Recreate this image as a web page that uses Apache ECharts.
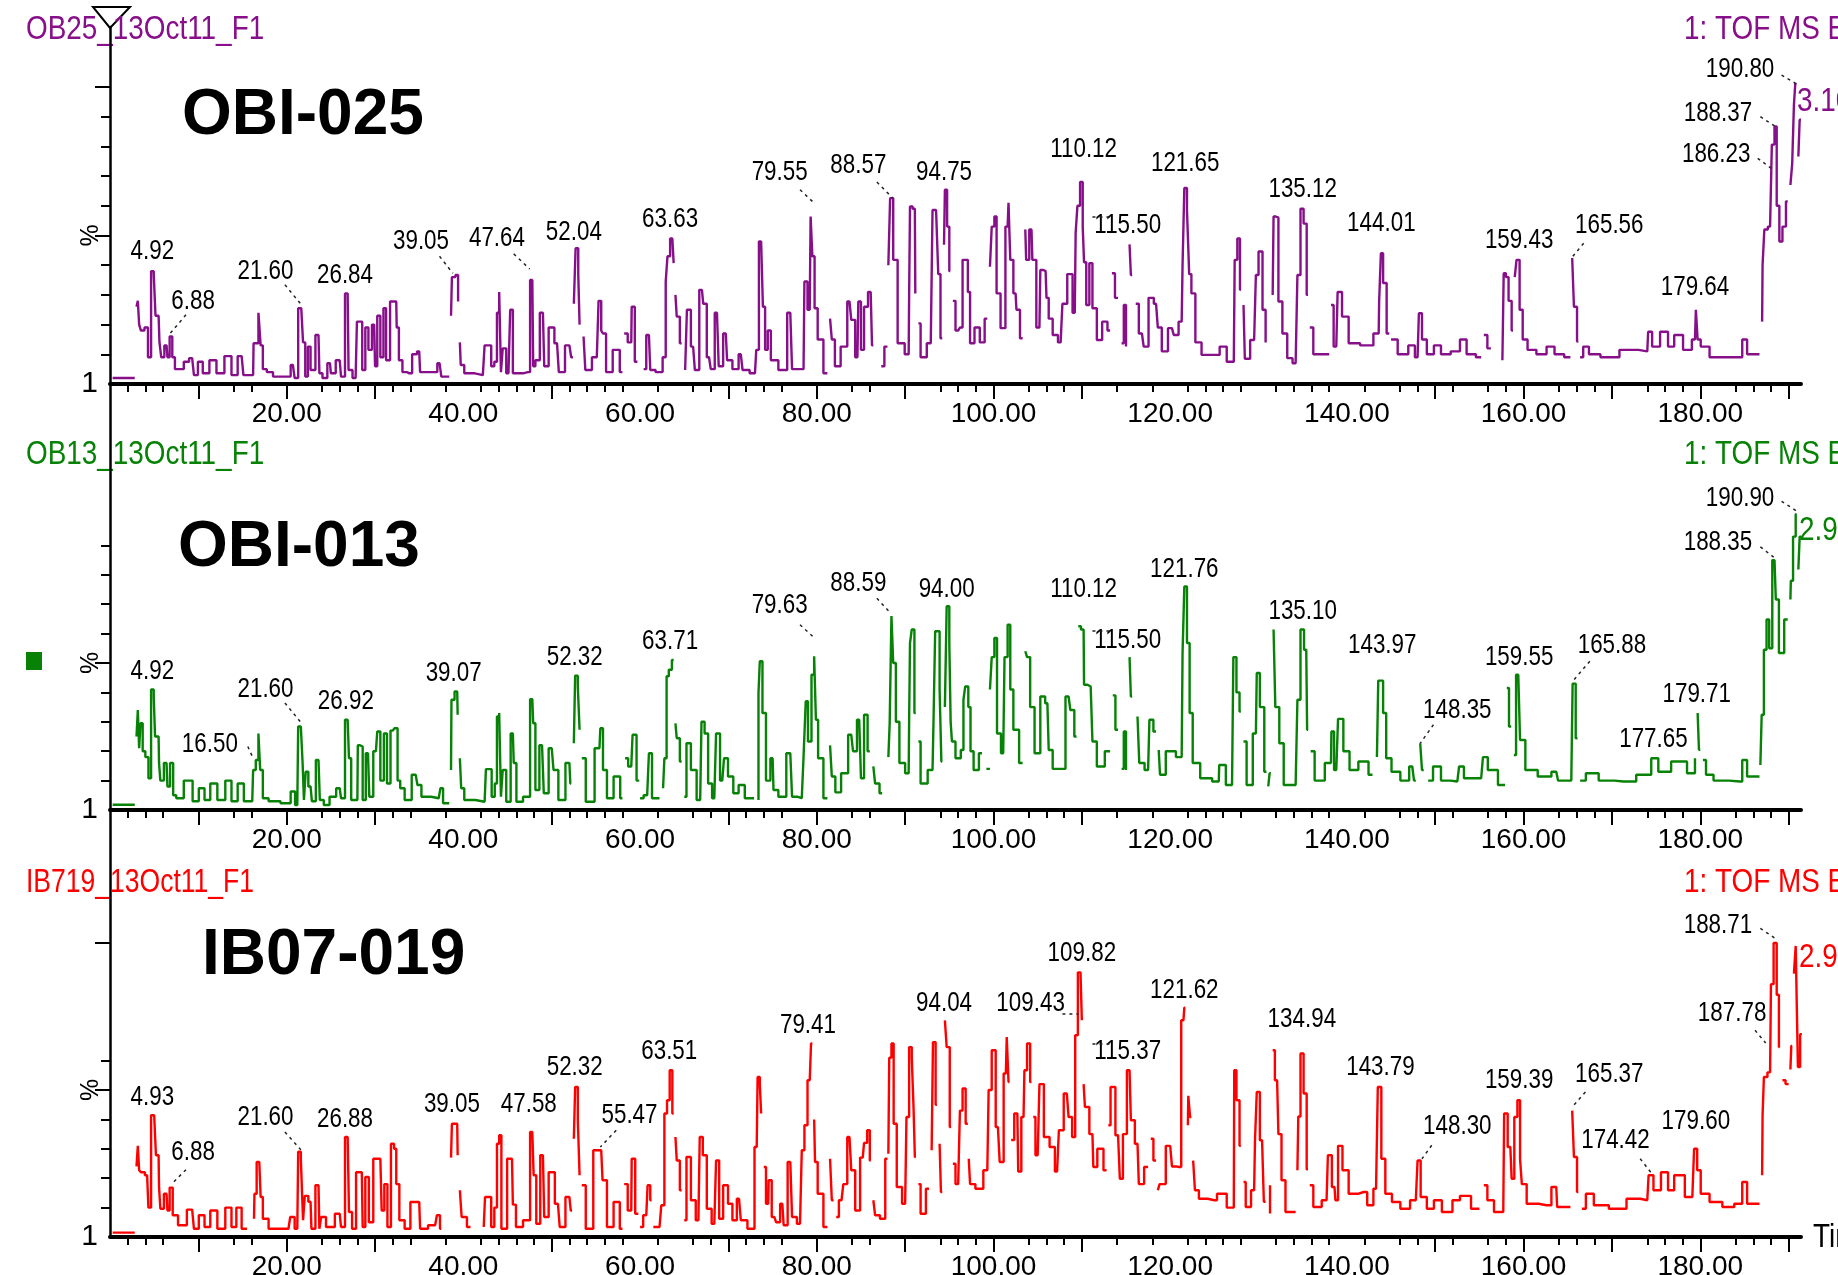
<!DOCTYPE html>
<html><head><meta charset="utf-8">
<style>html,body{margin:0;padding:0;background:#fff;overflow:hidden}#c{width:1838px;height:1275px}</style>
<script src="https://cdn.jsdelivr.net/npm/echarts@6/dist/echarts.min.js"></script></head>
<body><div id="c"></div>
<script>
const xLabelValues=[20,40,60,80,100,120,140,160,180];
const xMajorTicks=[10,20,30,50,70,80,90,100,110,150,160,170,180,190];
const xMinorTicks=[2,4,6,14,16,24,26,28,32,34,38,42,44,46,48,52,54,56,58,62,66,68,72,74,76,84,86,94,96,98,104,106,108,114,118,122,124,126,128,132,134,136,138,142,146,148,152,156,158,164,166,168,174,176,178,184,186,188];
const _=null;
const obi025=[[0.3,2],[2.8,2],_,
[3,26],[3.3,28],[3.3,20],[3.7,18],[4.1,19],[4.5,9],[4.8,38],[5.1,37],[5.2,23],[5.5,23],[5.7,14],[5.9,9],[6.4,13],[6.6,9],[6.9,16],[7.2,9],[7.5,5],[8.1,5],[8.6,7.5],[9.3,8.7],[9.7,3],[10.2,7.5],[10.8,3.6],[11.7,8],[12.4,3.6],[13.5,9.4],[14,3],[14.9,9.4],[15.3,3],[16.2,3],[16.3,13.7],[16.7,13.7],[16.9,24],[17,24],[17.1,13],[17.5,5],[18,4],[18.9,2.5],[20.2,2.5],[20.7,6.4],[21.1,2],[21.5,25.5],[21.8,25],[21.9,14],[22.3,2.5],[22.5,12.6],[22.9,4.7],[23.6,16.5],[23.8,3.6],[24.3,2],[24.9,7],[25.1,3.6],[26,8],[26.3,2.5],[26.9,30.5],[27.1,4.7],[27.8,2],[28.1,21],[28.4,21],[28.7,4.7],[29.1,19],[29.4,11.5],[29.9,20],[30.1,6],[30.4,23],[30.8,9],[31.1,25.5],[31.4,8],[32,27.8],[32.4,27.8],[32.5,19],[32.9,8],[33.3,4],[33.9,3.6],[34.5,10],[35,11],[35.2,4],[36.8,4],[37.3,7],[37.7,2.5],[38.4,2.5],_,
[38.6,23],[38.8,36],[39.4,36.7],[39.4,27.8],_,[39.6,14],[39.8,6.4],[40.4,3.6],[42.2,3],[42.6,13],[43,13],[43.3,6],[43.7,7.5],[43.9,24],[44.2,31],[44.3,4],[44.6,12],[45.1,3.6],[45.5,25],[45.7,3.6],[46.2,3.6],[47.3,4],[47.8,35],[48,6],[48.3,8],[49,24],[49.3,6],[50,19],[50.6,13.7],[51,4],[52,13],[52.4,9],_,[52.5,27],[52.9,45.7],[53.1,37],[53.2,20],_,[53.6,16],[54,4.7],[55.1,9],[55.5,28],[55.7,18],[55.9,17],[56.4,4],[57.4,11.5],[58,4],_,[58.2,17],[59,14],[59.1,26],[59.7,7.5],_,[60.4,5],[61,16.5],[61.3,4.7],[62.2,4],[62.9,9],[62.9,34.5],[63.3,43],[63.5,49],[63.8,49],[63.8,40.7],_,[64,30],[64.3,22.7],[64.7,13.7],_,[65.1,4.7],[65.5,25],[66,12.6],[66.4,4.7],[67,31.7],[67.3,27],[67.8,9],[68.2,5],[68.7,24],[69.1,6],[69.7,17],[70,8],[70.9,5],[71.4,10],[71.8,4.7],[73,3.6],[73.3,11.5],[73.6,48],[73.8,48],[74,26],[74.3,11.5],[74.6,18],[75,8],[76.3,4.7],[77,24],[77.4,5],[78.5,5],[78.7,34.5],[79.2,25],[79.4,56.4],[79.6,43],[79.9,25.5],[80.3,15],[81.2,3.6],_,[81.5,22],[81.9,15],[82.2,6],[83.2,12.6],[83.7,27.8],[84.1,21.6],[84.6,9],[84.8,27.8],[85.2,11.5],[85.5,26],[86.1,31],[86.4,13],_,[87.3,6],[88,12.6],_,[88.1,40],[88.5,62.6],[88.8,41.8],[89.5,13.7],[90.4,10],[90.5,29.4],[90.6,59.8],[91.1,59],[91.2,30.5],_,[91.5,20.4],[92,9],[92.9,13.7],[93.3,58.6],[93.7,58.6],[93.8,37],[94.2,15.4],_,[94.4,46.9],[94.6,65.4],[94.9,53],[95.1,38],_,[95.4,28],[96,18],[96.4,19],[96.6,41.8],[97,41.8],[97.2,31],[97.5,13.7],[98.2,19],[98.7,14],[99.3,22],_,[99.6,39.5],[100,53],[100.2,56.4],[100.5,30.5],[101.1,18.8],[101.6,53],[101.8,61],[102,41.8],[102.5,30.5],[102.7,25],[103.3,15.4],_,[103.6,52],[103.8,41.8],[104.3,52],[104.5,41.8],[105.2,19],[105.4,38.4],[105.9,38],[106.1,29],[106.4,22],[107,16.5],[107.6,14],[108,27],[108.7,37],[109.2,24],[109.4,51],[109.6,60],[110,68],[110.2,53],[110.3,41],[110.7,26.6],[111,40.7],[111.4,25.5],[112,14.8],[112.6,21],[113.2,18],_,[113.4,37.3],[114.1,29],_,[114.5,13.7],[115,26.6],[115,12.6],_,[115.4,47],[115.7,36.7],_,[116.1,27],[116.8,17],[117.2,12.6],[117.9,29],[118.4,27],[118.8,19],[119.3,11],[120.2,18.8],[120.6,16.5],[121.3,21],[121.5,40],[121.7,66],[122.1,58.6],[122.2,37],[122.6,30.5],[123.1,14],[124,9.8],[125.6,9.8],[125.6,12.6],[127.2,7.5],[127.4,41.8],[127.8,49],[128,31.7],_,[128.3,26.6],[128.6,8.5],[129.5,14.8],[129.9,36.7],[130.1,44.6],[130.8,25],[130.8,14],_,[131.2,8],_,[131.6,30],[131.8,56.4],[132.1,56],[132.4,27.8],[133,17],[133.5,8.7],[134.2,7],[134.6,36.7],[134.9,59],[135.3,54],[135.6,30],_,[135.8,19],[136.6,10],[138,10],_,[138.2,26.6],[138.8,12.6],[139.1,31],[139.8,22.7],[140.6,13.7],[142.4,13],[143.6,17],[143.7,27.8],[144,44],[144.2,34],[144.8,17],_,[145,15],[146.5,10],[147.4,13],[148,9],[148.3,23.8],[148.7,15],[149.4,10],[150.3,13],[151,10],[152.5,11],[153.1,15],[154,10],[155.2,9],_,[155.5,16.5],[156.3,12],_,[157.6,8],[157.9,37.3],[158.1,36],[158.5,28],[158.8,18],_,[159,36],[159.4,41.8],[159.7,25],[160.1,15],[160.8,11.5],[162.1,10],[163.1,12.6],[163.9,10],[165.3,9],_,[165.5,42.4],[165.9,26],[166.2,14.3],_,[166.4,9],[167.1,12.6],[167.7,10],[169.7,9],[172,11.5],[174,11],[174.2,17.6],[174.9,12.6],[176,17.6],[176.7,12.6],[177.4,16.5],[178.7,11.5],[179.4,15],[179.6,25],[179.8,15],[180.3,12.6],[181.8,9],[184.5,9],[185,15],[185.6,10],[186.7,10],_,[187,21],[187.1,40],[187.4,52],[187.9,53],[188.3,80.6],[188.5,86.7],[188.8,60],[189.1,48],[189.5,53],[189.9,61.5],_,[190.2,67],[190.6,74],[190.6,94],[190.9,101],_,[191.1,76.6],[191.4,89]];
const obi013=[[0.3,1.8],[2.8,1.8],_,
[3,25],[3.3,34],[3.3,21],[3.6,29.5],[3.8,20],[4.2,18],[4.5,10.8],[4.8,41],[5.1,38.6],[5.1,25],[5.5,25],[5.6,16],[5.8,10],[6.4,16],[6.6,8],[7,16],[7.3,5],[7.7,4],[9,10],[9.7,3],[10.4,7.4],[11,3.4],[11.7,9],[12.6,3.4],[13.5,10],[14,3],[14.9,9],[15.4,3],[16.1,3],[16.3,13.6],[16.7,17],[16.9,26],[17.1,13.6],[17.5,4],[18.4,3],[20.2,2.3],[20.7,6.3],[21.2,1.7],[21.4,28.4],[21.8,27.8],[21.8,16],[22.1,3.4],[22.2,13],[22.7,8],[23,3],[23.6,17],[23.9,3.4],[24.5,1.7],[25.2,4.5],[26,7.4],[26.3,4],[26.9,30.7],[27.2,17.6],[27.4,3.4],[28,3.4],[28.1,22],[28.5,21.6],[28.7,3.4],[29.2,19.3],[29.5,4.5],[30.1,20],[30.4,26.7],[30.8,10],[31.2,26],[31.5,9],[32,27],[32.4,27.8],[32.7,10],[33,7.4],[33.7,3.4],[34.6,12],[35,8.5],[35.5,4.5],[37.2,4],[37.6,7.4],[37.8,2.3],[38.4,2.3],_,
[38.6,13.6],[38.7,37.5],[39.3,40.3],[39.4,32.4],_,[39.6,17.6],[39.9,7.4],[40.3,3.4],[42.4,2.8],[42.7,13.9],[43,13.9],[43.4,4.5],[43.7,9],[43.9,31.8],[44.2,33],[44.3,4.5],[44.6,13.6],[45.1,2.8],[45.6,26],[45.8,16],[46.2,2.8],[47.3,4.5],[47.8,37.7],[48,29.5],[48.3,6.8],[48.9,22],[49.3,5.7],[50,21],[50.4,13.6],[51.1,3.4],[52,16],[52.2,9],_,[52.5,22.7],[52.8,45.7],[53.1,42],[53.2,27.3],_,[53.4,17.6],[54.3,2.8],[55.4,21],[55.6,27.8],[56,13.6],[56.5,4],[57.5,11.4],[58,4],_,[58.3,17.6],[59,14.8],[59.3,25.6],[59.9,10],_,[60,4],[60.8,5],[61.2,19.3],[61.5,4],[62.2,4],_,[62.6,7.4],[62.9,17.6],[63.1,45.5],[63.4,47.7],[63.8,51],_,[64,29.5],[64.3,24.4],[64.7,16.5],_,[65,4.5],[65.5,22.7],[66,13.6],[66.8,3.4],[67.1,30],[67.5,26],[67.9,9],[68.4,4],[68.8,26],[69.3,10],[69.7,17.6],[70.2,11.4],[70.9,5.7],[71.4,8.5],[72.3,4],[72.9,4],_,[73.4,3.4],[73.4,39.8],[73.7,50.6],[74,33],[74.5,10],[75,17.6],[75.2,6.8],[76.1,4.5],[77,19.3],[77.4,4.5],[78.3,4],[78.7,18],[78.8,37],[79.2,23.3],[79.6,46],[79.8,52.3],[80,30.7],[80.3,17.6],[81.2,4],_,[81.5,22],[81.9,11.4],[82.3,6],[83.2,12.5],[83.9,25.6],[84.3,20],[84.8,30.7],[85.2,10.8],[85.5,32.4],[86,20],_,[86.4,14.8],[86.8,9],[87.4,5.7],_,[87.9,7.4],_,[88.1,18],[88.4,29.5],[88.5,66],[88.8,50],[89.1,30],[89.6,16],[90.4,12.5],[90.5,30],[90.6,56.8],[90.9,61.4],[91.2,33],_,[91.5,23.3],[92,9],[93.1,13.6],[93.3,28.4],[93.5,60.8],[93.8,60.8],[94,41],[94.2,16.5],_,[94.5,35],[94.9,69.3],[95.1,56.8],[95.2,30],[95.4,23.3],[96,17.6],[96.6,20.4],[96.6,37.5],[97,42],[97.3,35],[97.5,20],[98,13.6],[98.7,19.3],_,[99.2,14],[99.6,14],_,[99.6,41],[100,52],[100.2,58.5],[100.6,26],[101.1,19.3],[101.4,52],[101.8,63],[102,41],[102.5,27.3],[103.3,16],_,[103.6,54],[104,52],[104.3,35],[105,19.3],[105.6,38.6],[106.1,36.3],[106.4,20.4],[107,14],[107.8,14],[108.5,38.6],[108.9,34],[109.4,25],_,[109.6,62.5],[110.2,61.4],[110.3,42.6],[111,42],[111.4,23.3],[112,14.8],[113.2,20],_,[113.5,39],[114.1,27.3],_,[114.5,14],[115,26.7],[115,13.6],_,[115.4,52],[115.7,38.6],_,[116.3,31.8],[116.7,16],[117.5,13.6],[117.8,30.7],[118.4,26.7],_,[118.7,20.4],[119,12],[120,20],[121.3,18],[121.5,53.4],[121.7,76],[122.1,56.8],[122.3,33],[122.8,16],[124,10.8],[125.5,9.7],[125.6,15.3],[127,8.5],[127.3,52],[127.7,40],[128,33.5],_,[128.3,23.3],[129,8.5],[129.7,26],[129.9,46.6],[130.4,35],[130.9,13],_,[131.1,8],[131.4,12.5],_,[131.7,61.4],[132.1,35],[132.6,22.7],[133.1,8.5],[134.2,8.5],[134.6,37.5],[134.9,61.4],[135.4,54.5],[135.6,27.3],_,[135.9,20],[136.8,10],[138.2,16],[138.3,26.7],[138.8,13.6],[139.2,31],[140,20],[140.6,13.6],[142,16.5],[142.9,12],_,[143.4,18],[143.7,44],[144,44],[144.2,33],[144.7,17.6],[145.4,13],[146.7,10],[147.4,14.8],[147.8,10],_,[148.3,22.7],[148.7,13.6],_,[149.2,10],[150.3,14.8],[151,10],[152.5,9.7],[152.9,14.8],[153.6,10.8],[155.2,10.8],[155.6,18],[156.3,13.6],[157.9,8.5],_,[158.1,41.5],[158.6,28.4],_,[158.9,18.7],[159.4,46],[159.8,23.8],[160.6,13.6],[162.6,11.4],[163.7,13],[164.1,10],[165.4,10],[165.7,43],[166.1,24.4],_,[166.4,10],[167.7,12.5],[169.3,10],[171.3,9.7],[174.2,12],[174.7,17.6],[175.8,13],[177.6,16.5],[179.4,12.5],[179.4,17.6],_,[179.7,33],[180,20.5],_,[180.3,17],[181,12],[182,10],[184.5,9.7],[185,17],[185.6,11.4],[186.7,11.4],_,[186.8,15.3],[187.1,32.4],[187.3,54.5],[187.7,64.8],[187.9,55],[188.4,85],[188.7,71.6],[189.1,53.4],[189.9,64.8],_,[190.2,71.6],[190.3,78],[190.7,93],[190.9,100.6],_,[191.1,81.8],[191.4,93]];
const ib07019=[[0.3,1.5],[2.8,1.5],_,
[3,24],[3.3,31],[3.3,22.7],[3.7,22],[4.2,21],[4.5,10],[4.8,41.4],[5.2,40.8],[5.2,27.8],[5.5,27.8],[5.6,17],[5.8,9.6],[6.4,14.7],[6.6,9],[6.9,16.8],[7.3,7.4],[8.1,4],[9.3,9.3],[9.7,2.8],[10.4,7.4],[11,3.4],[11.7,9],[12.6,2.8],[13.5,10],[14,3.4],[14.6,10],[15.2,2.8],[15.5,2.8],_,[16.3,6.2],[16.4,14.7],[16.8,25.5],[17,25.5],[17.1,13.6],[17.5,6.2],[18.4,2.8],[20.2,2.8],[20.6,6.8],[21.2,2.8],[21.4,29],[21.8,26.6],[21.9,5.7],[22.2,14],[22.7,12],[22.9,2.8],[23.6,17.6],[23.8,2.8],[24,6.8],[24.9,3.4],[26,7.9],[26.3,3.4],[26.9,34],[27.2,8.5],[27.6,2.8],[28.1,22],[28.5,22],[28.7,3.4],[29.1,20.4],[29.5,5],[30.1,26.6],[30.6,26.6],[30.9,9],[31.2,18],[31.6,3.4],[32,31.7],[32.3,30],[32.5,18],[33,5.7],[33.7,2.8],[34.3,11.9],[35,11.9],[35.2,2.8],[36.8,4],[37.2,7.4],[37.5,2.8],_,[38.4,2.8],_,[38.6,27],[38.8,38.5],[39.3,38.5],[39.4,27.8],_,[39.6,15.9],[40,6.8],[40.8,3.4],_,[42.3,3.4],[42.6,13.6],[43,13.6],[43.3,3.4],[43.7,10],[43.9,31.7],[44.2,34.6],[44.4,2.8],[45.5,26.6],[45.7,11],[46.2,3.4],[47.3,5.7],[47.8,35.7],[48.1,21],[48.4,4.5],[49,27.8],[49.3,6.8],[50,22],[50.7,11.3],[51.1,3.4],[52,13.6],[52.3,9],_,[52.5,33.4],[52.8,51],[53.1,39.7],[53.2,21],_,[53.4,17.6],[54.3,2.8],[55.1,29.5],[55.6,29.5],[55.9,19.3],[56.6,3.4],[57.4,11.9],[58,2.8],_,[58.2,18],[59,9],[59.1,26.6],[59.8,7.9],_,[60,3.4],[60.7,7.4],[61,17.6],[61.3,12.5],_,[61.5,3.4],[62.2,3.4],[62.6,10.8],[62.9,42],[63.2,46.5],[63.5,56.7],[63.8,42],_,[64,34],[64.3,26],[64.7,15.9],_,[65,5.7],[65.5,27.2],[66,12.5],[66.6,5.7],[66.9,34],[67.3,27.8],[67.8,9.6],[68.4,4.5],[68.8,26],[69.1,6.2],[69.7,17.6],[70.2,11.3],[70.7,5.7],[71.2,13],[71.6,5.7],[72.7,2.8],[73.2,30.6],[73.4,54.4],[73.7,52],[73.7,42],_,[74,23.8],[74.5,11.3],[74.6,19.3],[75.2,6.8],[75.6,5],[76.1,11.3],[76.4,4],[77,25.5],[77.4,6.8],[78.1,4.5],[78.5,29.5],[78.7,38],[79.2,53.3],[79.5,65.8],_,[79.7,40],[79.9,25.5],[80.3,14.7],[81.2,3.4],_,[81.5,26.6],[81.9,12.5],_,[82.2,6.8],[82.8,12.5],[83.2,18],[83.7,34],[84.1,22.7],[84.6,9],[85.2,27],[85.5,32],[85.9,36.3],[86.1,26],_,[86.4,12.5],[86.8,7.4],[87.5,6.2],[88,26.6],_,[88.1,28.3],[88.3,61],[88.6,65.8],[88.8,38.5],[89.3,17],[90,11.3],[90.3,40.8],[90.6,64.6],[90.9,61],[91,44],[91.2,27.2],_,[91.5,18],[92,7.9],[92.7,16.4],_,[93,29.5],[93.3,66.3],[93.6,45],_,[93.9,31.7],[94.2,15.3],_,[94.5,73.7],[94.9,64.6],[95.2,37.4],_,[95.4,24.9],[96,18],[96.4,43],[96.6,50.5],[97.1,38.5],_,[97.2,26.6],[97.5,18],[98.4,16.4],[99.3,22.7],[99.6,50],[100,63.5],[100.5,37.4],[100.9,25.5],[101.4,55.6],[101.6,68],[101.8,52.7],_,[102,33],[102.7,42],[102.9,22.3],[103.4,40.8],[103.6,56.7],[104,65.8],[104.3,52.7],_,[104.5,40.8],[105,27.8],[105.4,52],[106,34],[106.7,30.6],[107.2,22.3],[107.6,36.3],[108.3,48.8],[108.7,40.8],[109.1,34],[109.4,68.6],[109.7,90],[110,90],[110,73.7],_,[110.2,52],[110.5,44.2],[111.2,35],[111.4,23.8],[112.1,30],[112.8,22.7],_,[113,38],[113.5,51],[114.1,34.6],[114.5,19.8],[114.8,35],[115.4,56.7],[115.7,39.7],[116.3,31.7],[116.6,18],[117.5,23.8],_,[117.8,33.4],[118.4,26],_,[118.6,15.9],[119,18],[120,31],[120.4,24],[121,23.8],[121.5,73.7],[121.7,78],_,[122,38],[122.1,48],[122.4,40.8],_,[122.6,26],[123,15.9],[123.5,13],[125,12.5],[125.6,14.7],[127.2,10],[127.3,56.7],[127.7,46.5],[128,31],_,[128.3,18.7],[128.8,10.2],[129.5,15.9],[129.7,32.9],[129.9,49.3],[130.4,32.9],[130.8,12],_,[131.3,17.6],[131.3,8],_,[131.6,63.5],[132.1,53.3],[132.4,35],[132.8,19.3],[133.3,8.5],[134.2,8.5],_,[134.4,22.7],[134.6,41],[134.9,62.4],[135.3,48.8],[135.6,23],_,[135.8,17.6],[136.6,10.2],[137.7,12.5],[138,27.8],[138.6,17],[138.8,12.5],[139.2,31],[139.8,22.7],[140.6,14.7],[141.9,15.3],[142.7,10.8],[143.3,16.4],[143.7,51],[144.1,26.6],[144.6,14.7],[145.6,11.9],[146.5,9.6],[147.8,12.5],[148.2,26],[148.5,13.6],[149.6,9.6],[150.1,12.5],[151.4,8.5],[152.5,12.5],[153.1,14],[155,9.6],_,[155.5,17.6],[156.3,12.5],[157,8.5],[157.7,8.5],[157.9,42],[158.5,30.6],[158.8,19.8],[159.1,40.8],[159.5,46.5],[159.7,26.6],[159.9,18],[160.8,11.3],[162.6,10.8],[163.7,17],[163.9,10.2],[165.3,10.2],_,[165.5,43],[165.9,27.2],[166.2,15.3],_,[166.6,9.6],[167.5,14.7],[168.4,10.8],[170.9,9.6],[172.4,13],[174,12.5],[174.3,21],[175.1,15.9],[176,22],[176.7,15.9],[177.4,21],[179.1,13.6],[179.5,30],[179.8,22.7],[180.3,14.7],[181.8,11.9],[183.2,10.2],[184.5,11.3],[185,18.7],[185.6,11.3],[186.7,11.3],_,[187,21],[187.1,41.4],[187.3,54.4],[187.9,56],[188.1,86],[188.5,100],[188.8,82.4],[189,64.6],_,[189.3,53.3],[190,52],_,[190.2,57],[190.4,65],_,[190.6,89.6],[191,99],[191.1,57.8],[191.5,69]];

const annotations025=[["4.92",4.8,44.6],["6.88",9.4,27.8],["21.60",17.6,37.9],["26.84",26.6,36.7],["39.05",35.2,48],["47.64",43.8,49],["52.04",52.5,51],["63.63",63.4,55.3],["79.55",75.8,71.3],["88.57",84.7,73.6],["94.75",94.4,71.3],["110.12",110.2,78.9],["115.50",115.2,53.6],["121.65",121.7,74.4],["135.12",135,65.4],["144.01",143.9,54],["159.43",159.5,48.5],["165.56",169.7,53.6],["179.64",179.4,32.6],["190.80",184.5,105.8],["188.37",182,91.2],["186.23",181.8,77.2]];
const annotations013=[["4.92",4.8,47.2],["16.50",11.3,22.2],["21.60",17.6,40.9],["26.92",26.7,37],["39.07",38.9,46.4],["52.32",52.6,52],["63.71",63.4,57.4],["79.63",75.8,69.5],["88.59",84.7,77],["94.00",94.7,75.2],["110.12",110.2,75],["115.50",115.2,57.7],["121.76",121.6,82],["135.10",135,67.6],["143.97",144,55.9],["148.35",152.5,33.9],["159.55",159.5,52],["165.88",170,55.9],["177.65",174.7,24],["179.71",179.6,39.2],["190.90",184.5,106],["188.35",182,91]];
const annotations019=[["4.93",4.8,47.6],["6.88",9.4,28.9],["21.60",17.6,40.8],["26.88",26.6,40.2],["39.05",38.7,45],["47.58",47.4,45],["52.32",52.6,57.6],["55.47",58.8,41.4],["63.51",63.3,63],["79.41",79,72],["94.04",94.4,79.6],["109.43",104.2,79.6],["109.82",110,96.6],["115.37",115.2,63],["121.62",121.6,84],["134.94",134.9,74],["143.79",143.8,57.8],["148.30",152.5,37.6],["159.39",159.5,53.3],["165.37",169.7,55.3],["174.42",170.4,33],["179.60",179.5,39.5],["188.71",182,106],["187.78",183.6,76]];
const leaders025=[[19.8,33.4,21.6,26.9],[8.6,23.3,6.8,17],[37.3,43,38.8,37.3],[45.7,43.8,47.5,38.7],[78.1,65.4,79.6,61.2],[86.8,68,88.6,62.6],[111.2,56.2,113.2,56.2],[166.8,47.4,165.5,42.7],[189.2,104,190.9,101],[186.8,90,188.5,86.7],[186.5,76,188.3,72]];
const leaders013=[[19.8,36.4,21.6,29.8],[15.6,21.6,16.2,17.6],[78.1,63,79.6,58.9],[86.8,72,88.4,66.8],[111.2,60.8,113.2,60.8],[167.5,50.6,165.7,44.3],[149.8,29,148.3,22.7],[189.2,105,190.9,101.7],[186.8,89.5,188.3,86]];
const leaders019=[[8.6,22.9,7.2,18.7],[19.8,35.7,21.6,29.7],[57.3,36.3,55.5,30.6],[107.8,76,109.6,76],[111.2,65.6,113.2,65.6],[167,49.3,165.5,44.2],[149.6,31.2,148.5,26.6],[173.2,26.6,174.4,22],[186.2,70.3,187.4,66],[186.8,105,188.5,101.5]];

const sans='"Liberation Sans",Arial,sans-serif';
const panels=[
 {top:27,base:384,unit:2.97,color:'#87108a',data:obi025,ann:annotations025,lead:leaders025,major:[50,100],minor:[10,20,30,40,60,70,80,90]},
 {top:384,base:810,unit:2.94,color:'#078207',data:obi013,ann:annotations013,lead:leaders013,major:[50],minor:[10,20,30,40,60,70,80,90]},
 {top:810,base:1237,unit:2.94,color:'#ff0000',data:ib07019,ann:annotations019,lead:leaders019,major:[50,100],minor:[10,20,30,40,60]}
];
const grid=[],xAxis=[],yAxis=[],series=[];
panels.forEach((p,i)=>{
 const yMax=(p.base-p.top)/p.unit;
 grid.push({left:110,width:1691,top:p.top,height:p.base-p.top,outerBoundsMode:'none',containLabel:false});
 xAxis.push({gridIndex:i,type:'value',position:'bottom',min:0,max:191.4,interval:20,splitLine:{show:false},
  axisLine:{lineStyle:{color:'#000',width:4},onZero:false},
  axisTick:{customValues:xMajorTicks,length:15,lineStyle:{color:'#000',width:2}},
  axisLabel:{customValues:xLabelValues,formatter:v=>v.toFixed(2),fontFamily:sans,fontSize:28,color:'#000',margin:16}});
 xAxis.push({gridIndex:i,type:'value',position:'bottom',min:0,max:191.4,interval:20,splitLine:{show:false},
  axisLine:{show:false},axisLabel:{show:false},
  axisTick:{customValues:xMinorTicks,length:8,lineStyle:{color:'#000',width:2}}});
 yAxis.push({gridIndex:i,type:'value',position:'left',min:0,max:yMax,interval:10,splitLine:{show:false},
  axisLine:{onZero:false,lineStyle:{color:'#000',width:2.5}},
  axisTick:{customValues:p.major,length:15,lineStyle:{color:'#000',width:2}},
  axisLabel:{customValues:[50],formatter:()=>'%',rotate:90,fontFamily:sans,fontSize:25,color:'#000',margin:6}});
 yAxis.push({gridIndex:i,type:'value',position:'left',min:0,max:yMax,interval:10,splitLine:{show:false},
  axisLine:{show:false},
  axisTick:{customValues:p.minor,length:9,lineStyle:{color:'#000',width:2}},
  axisLabel:{customValues:[0],formatter:()=>'1',fontFamily:sans,fontSize:30,color:'#000',margin:12}});
 series.push({type:'line',xAxisIndex:2*i,yAxisIndex:2*i,data:p.data.map(d=>d||['-','-']),symbol:'none',connectNulls:false,clip:false,step:'middle',
  animation:false,silent:true,lineStyle:{color:p.color,width:2.4},itemStyle:{color:p.color},
  markLine:{silent:true,animation:false,symbol:'none',label:{show:false},lineStyle:{color:'#222',type:[3,4],width:1.5},
   data:p.lead.map(l=>[{coord:[l[0],l[1]]},{coord:[l[2],l[3]]}])}});
 series.push({type:'custom',xAxisIndex:2*i,yAxisIndex:2*i,clip:false,animation:false,silent:true,
  encode:{x:0,y:1},data:p.ann.map(a=>[a[1],a[2]]),
  renderItem:(params,api)=>{const pt=api.coord([api.value(0),api.value(1)]);
   return {type:'text',x:pt[0],y:pt[1],scaleX:0.8,style:{text:p.ann[params.dataIndex][0],x:0,y:0,align:'center',verticalAlign:'middle',font:'28px '+sans,fill:'#000'}};}});
});
const txt=(t,x,y,fill,font,sx)=>({type:'text',x,y,scaleX:sx||1,silent:true,style:{text:t,fill,font,textVerticalAlign:'middle'}});
const f34='34px '+sans, tb='bold 64px '+sans;
const graphic=[
 {type:'polygon',shape:{points:[[93,7],[130,7],[110,28]]},style:{fill:'none',stroke:'#000',lineWidth:2},silent:true},
 {type:'rect',shape:{x:26,y:652,width:16,height:18},style:{fill:'#078207'},silent:true},
 txt('OB25_13Oct11_F1',26,30,'#87108a',f34,.82),txt('OB13_13Oct11_F1',26,455,'#078207',f34,.82),txt('IB719_13Oct11_F1',26,883,'#ff0000',f34,.78),
 txt('1: TOF MS ES-',1684,30,'#87108a',f34,.82),txt('1: TOF MS ES-',1684,455,'#078207',f34,.82),txt('1: TOF MS ES-',1684,883,'#ff0000',f34,.82),
 txt('3.10e3',1797,102,'#87108a',f34,.82),txt('2.90e3',1799,531,'#078207',f34,.82),txt('2.90e3',1799,958,'#ff0000',f34,.82),
 txt('Time',1813,1238,'#000',f34,.82),
 txt('OBI-025',182,116,'#000',tb),txt('OBI-013',178,548,'#000',tb),txt('IB07-019',202,956,'#000',tb)
];
const chart=echarts.init(document.getElementById('c'),null,{renderer:'canvas',width:1838,height:1275});
chart.setOption({animation:false,backgroundColor:'#fff',grid,xAxis,yAxis,series,graphic});
</script></body></html>
